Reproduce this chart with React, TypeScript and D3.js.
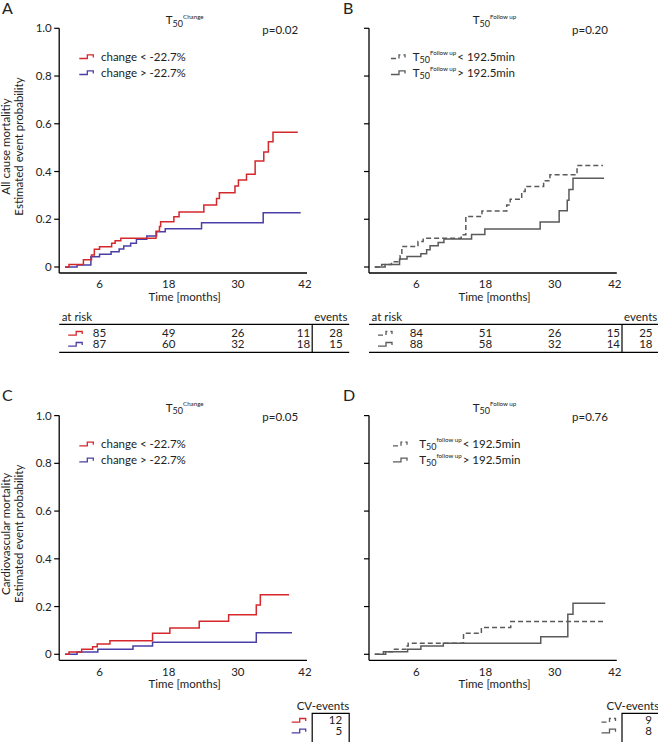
import React, { useEffect, useRef } from "react";
import * as d3 from "d3";

type Step = [number, number];

const monthTicks = [6, 18, 30, 42];
const probTicks = [0, 0.2, 0.4, 0.6, 0.8, 1.0];
const probTickLabels = ["0", "0.2", "0.4", "0.6", "0.8", "1.0"];

// all cause mortality, T50 change
const allChangeBelow: Step[] = [
  [0, 0], [0.7, 0.01], [3.2, 0.03], [4.6, 0.05], [5.1, 0.074], [6.0, 0.085],
  [8.1, 0.099], [8.7, 0.11], [9.7, 0.12], [15.8, 0.15], [16.4, 0.17], [16.6, 0.19],
  [18.9, 0.21], [19.8, 0.23], [24.1, 0.26], [26.3, 0.287], [26.8, 0.311],
  [29.5, 0.339], [30.1, 0.364], [31.5, 0.389], [33.0, 0.444], [34.5, 0.482],
  [35.3, 0.525], [36.1, 0.564], [40.4, 0.564],
];
const allChangeAbove: Step[] = [
  [0, 0], [2.1, 0.008], [4.5, 0.043], [6.0, 0.053], [8.0, 0.064], [9.4, 0.075],
  [10.2, 0.088], [11.4, 0.1], [12.4, 0.116], [14.2, 0.13], [15.9, 0.148],
  [17.4, 0.16], [23.7, 0.185], [34.4, 0.227], [40.9, 0.227],
];

// all cause mortality, T50 follow up
const allFollowBelow: Step[] = [
  [0, 0], [1.2, 0.01], [2.9, 0.022], [4.4, 0.047], [4.7, 0.086], [7.5, 0.107],
  [8.4, 0.12], [15.0, 0.135], [15.8, 0.212], [18.6, 0.235], [22.9, 0.26],
  [23.5, 0.284], [25.5, 0.316], [26.1, 0.337], [29.3, 0.361], [30.4, 0.386],
  [35.1, 0.425], [39.6, 0.425],
];
const allFollowAbove: Step[] = [
  [0, 0], [1.8, 0.01], [4.3, 0.033], [5.6, 0.044], [8.0, 0.056], [9.0, 0.072],
  [9.6, 0.089], [11.0, 0.103], [12.0, 0.117], [16.8, 0.136], [19.1, 0.159],
  [28.7, 0.188], [32.0, 0.236], [33.4, 0.28], [33.7, 0.325], [34.4, 0.372],
  [39.8, 0.372],
];

// cardiovascular mortality
const cvChangeBelow: Step[] = [
  [0, 0], [0.7, 0.01], [2.9, 0.021], [4.8, 0.032], [5.6, 0.043], [7.8, 0.057],
  [15.2, 0.088], [18.2, 0.11], [23.3, 0.138], [28.4, 0.166], [33.2, 0.207],
  [33.9, 0.249], [38.9, 0.249],
];
const cvChangeAbove: Step[] = [
  [0, 0], [2.1, 0.01], [5.7, 0.021], [11.8, 0.035], [15.2, 0.05], [33.2, 0.09],
  [39.4, 0.09],
];
const cvFollowBelow: Step[] = [
  [0, 0], [1.5, 0.011], [3.2, 0.021], [5.4, 0.035], [5.8, 0.046], [15.4, 0.088],
  [18.5, 0.112], [23.6, 0.137], [39.6, 0.137],
];
const cvFollowAbove: Step[] = [
  [0, 0], [1.9, 0.011], [5.7, 0.021], [8.0, 0.035], [11.9, 0.046], [28.8, 0.074],
  [33.5, 0.168], [34.4, 0.214], [40.0, 0.214],
];

// numbers at risk / events
const riskChangeBelow = [85, 49, 26, 11];
const riskChangeAbove = [87, 60, 32, 18];
const riskFollowBelow = [84, 51, 26, 15];
const riskFollowAbove = [88, 58, 32, 14];
const eventsChange = [28, 15];
const eventsFollow = [25, 18];
const cvEventsChange = [12, 5];
const cvEventsFollow = [9, 8];

const RED = "#d4282c";
const BLUE = "#4a3fa6";
const GREY = "#5a5a5a";
const INK = "#222";
const FONT = "Lato, 'Open Sans', sans-serif";
const FS = 11.5;

interface Series {
  steps: Step[];
  color: string;
  dashed?: boolean;
  label: string;
}

interface PanelCfg {
  letter: string;
  letterX: number;
  ax: number; // y axis position
  top: number;
  titleSup: string;
  p: string;
  yLabel?: string[];
  tickShift: number;
  legendIconX: number;
  legendTextX: number;
  legendSup?: string;
  series: Series[];
  risk?: number[][];
  events?: number[];
  cvEvents?: number[];
}

type G = d3.Selection<SVGGElement, unknown, null, undefined>;
type T = d3.Selection<SVGTextElement, unknown, null, undefined>;

function addT50(t: T, sup: string, rest?: string) {
  t.append("tspan").text("T");
  t.append("tspan").attr("font-size", 9).attr("dy", 2.5).text("50");
  t.append("tspan").attr("font-size", 6.2).attr("dy", -8).text(sup);
  if (rest) t.append("tspan").attr("font-size", FS).attr("dy", 5.5).attr("dx", 1).text(rest);
}

function stepIcon(g: G, x: number, y: number, s: Series) {
  g.append("path")
    .attr("d", `M${x},${y + 1.8}H${x + 8}V${y - 1.8}H${x + 14}V${y + 0.8}`)
    .attr("fill", "none")
    .attr("stroke", s.color)
    .attr("stroke-width", 1.3)
    .attr("stroke-dasharray", s.dashed ? "5,3" : null);
}

function drawPanel(svg: d3.Selection<SVGSVGElement, unknown, null, undefined>, c: PanelCfg) {
  const g = svg.append("g").attr("transform", `translate(0,${c.top})`) as G;
  const axisEnd = c.ax + 247.8;

  const x = d3.scaleLinear().domain([-1, 42]).range([c.ax, axisEnd]);
  const y = d3.scaleLinear().domain([0, 1]).range([267, 28.3]);
  const xAxisY = 273;
  const tickX = (t: number) => Math.min(x(t) + c.tickShift, axisEnd - 2);

  // panel letter
  g.append("text")
    .attr("x", c.letterX)
    .attr("y", 14)
    .attr("font-size", 16)
    .attr("fill", INK)
    .text(c.letter);

  // title
  const title = g.append("text")
    .attr("x", c.ax + 125.5)
    .attr("y", 24.3)
    .attr("text-anchor", "middle")
    .attr("font-size", FS)
    .attr("fill", INK) as T;
  addT50(title, c.titleSup);

  g.append("text")
    .attr("x", c.ax + 221)
    .attr("y", 33.5)
    .attr("text-anchor", "middle")
    .attr("font-size", FS)
    .attr("fill", INK)
    .text(c.p);

  // axes
  g.append("line")
    .attr("x1", c.ax).attr("x2", c.ax)
    .attr("y1", y(1)).attr("y2", xAxisY)
    .attr("stroke", "#000").attr("stroke-width", 1.3);
  g.append("line")
    .attr("x1", c.ax).attr("x2", axisEnd)
    .attr("y1", xAxisY).attr("y2", xAxisY)
    .attr("stroke", "#000").attr("stroke-width", 1.3);

  g.selectAll(".ytick")
    .data(probTicks)
    .enter()
    .append("line")
    .attr("x1", c.ax - 5).attr("x2", c.ax)
    .attr("y1", (d) => y(d)).attr("y2", (d) => y(d))
    .attr("stroke", "#000").attr("stroke-width", 1.2);

  if (c.yLabel) {
    g.selectAll(".ylab")
      .data(probTicks)
      .enter()
      .append("text")
      .attr("x", c.ax - 7.5)
      .attr("y", (d) => y(d) + 4)
      .attr("text-anchor", "end")
      .attr("font-size", FS)
      .attr("fill", INK)
      .text((_, i) => probTickLabels[i]);

    c.yLabel.forEach((line, i) => {
      g.append("text")
        .attr("transform", `translate(${10 + i * 13},146.5) rotate(-90)`)
        .attr("text-anchor", "middle")
        .attr("font-size", FS)
        .attr("fill", INK)
        .text(line);
    });
  }

  g.selectAll(".xlab")
    .data(monthTicks)
    .enter()
    .append("text")
    .attr("x", (d) => tickX(d))
    .attr("y", 288.3)
    .attr("text-anchor", "middle")
    .attr("font-size", FS)
    .attr("fill", INK)
    .text((d) => d);

  g.append("text")
    .attr("x", c.ax + 125.5)
    .attr("y", 300.8)
    .attr("text-anchor", "middle")
    .attr("font-size", FS)
    .attr("fill", INK)
    .text("Time [months]");

  // curves
  const line = d3
    .line<Step>()
    .x((d) => x(d[0]))
    .y((d) => y(d[1]))
    .curve(d3.curveStepAfter);

  [...c.series].reverse().forEach((s) => {
    g.append("path")
      .attr("d", line(s.steps))
      .attr("fill", "none")
      .attr("stroke", s.color)
      .attr("stroke-width", 1.5)
      .attr("stroke-dasharray", s.dashed ? "5,3" : null);
  });

  // legend
  c.series.forEach((s, i) => {
    const ly = 56.7 + i * 16;
    stepIcon(g, c.legendIconX, ly, s);
    const t = g.append("text")
      .attr("x", c.legendTextX)
      .attr("y", ly + 4)
      .attr("font-size", FS)
      .attr("fill", INK) as T;
    if (c.legendSup) addT50(t, c.legendSup, s.label);
    else t.text(s.label);
  });

  const vx = c.ax + 253;
  const tableEnd = c.ax + 290;

  // numbers at risk
  if (c.risk && c.events) {
    g.append("text")
      .attr("x", c.ax + 2.5).attr("y", 320.7)
      .attr("font-size", FS).attr("fill", INK)
      .text("at risk");
    g.append("text")
      .attr("x", vx + 2).attr("y", 320.7)
      .attr("font-size", FS).attr("fill", INK)
      .text("events");
    [324.3, 352.3].forEach((ly) => {
      g.append("line")
        .attr("x1", c.ax).attr("x2", tableEnd)
        .attr("y1", ly).attr("y2", ly)
        .attr("stroke", "#000").attr("stroke-width", 1.2);
    });
    g.append("line")
      .attr("x1", vx).attr("x2", vx)
      .attr("y1", 324.3).attr("y2", 352.3)
      .attr("stroke", "#000").attr("stroke-width", 1.2);

    c.risk.forEach((row, r) => {
      const ry = 333.3 + r * 11;
      stepIcon(g, c.ax + 9, ry, c.series[r]);
      row.forEach((n, k) => {
        const last = k === row.length - 1;
        g.append("text")
          .attr("x", last ? vx - 2 : tickX(monthTicks[k]))
          .attr("y", ry + 4)
          .attr("text-anchor", last ? "end" : "middle")
          .attr("font-size", FS).attr("fill", INK)
          .text(n);
      });
      g.append("text")
        .attr("x", vx + 30.5).attr("y", ry + 4)
        .attr("text-anchor", "end")
        .attr("font-size", FS).attr("fill", INK)
        .text(c.events![r]);
    });
  }

  // CV events box
  if (c.cvEvents) {
    g.append("text")
      .attr("x", c.ax + 237.5).attr("y", 322.7)
      .attr("font-size", FS).attr("fill", INK)
      .text("CV-events");
    g.append("path")
      .attr("d", `M${vx},360V326H${tableEnd}V360`)
      .attr("fill", "none")
      .attr("stroke", "#000").attr("stroke-width", 1.2);
    c.cvEvents.forEach((n, r) => {
      const ry = 333 + r * 10.7;
      stepIcon(g, c.ax + 232.5, ry, c.series[r]);
      g.append("text")
        .attr("x", c.ax + 283).attr("y", ry + 4)
        .attr("text-anchor", "end")
        .attr("font-size", FS).attr("fill", INK)
        .text(n);
    });
  }
}

export default function App() {
  const svgRef = useRef<SVGSVGElement>(null);

  useEffect(() => {
    const svg = d3.select(svgRef.current!);
    svg.selectAll("*").remove();
    svg.attr("font-family", FONT);

    const changeSeries = (a: Step[], b: Step[]): Series[] => [
      { steps: a, color: RED, label: "change < -22.7%" },
      { steps: b, color: BLUE, label: "change > -22.7%" },
    ];
    const followSeries = (a: Step[], b: Step[]): Series[] => [
      { steps: a, color: GREY, dashed: true, label: "< 192.5min" },
      { steps: b, color: GREY, label: "> 192.5min" },
    ];

    drawPanel(svg, {
      letter: "A", letterX: 2, ax: 59.2, top: 0, titleSup: "Change", p: "p=0.02",
      yLabel: ["All cause mortalitiy", "Estimated event probability"],
      tickShift: 0, legendIconX: 79.3, legendTextX: 101,
      series: changeSeries(allChangeBelow, allChangeAbove),
      risk: [riskChangeBelow, riskChangeAbove], events: eventsChange,
    });
    drawPanel(svg, {
      letter: "B", letterX: 343, ax: 369, top: 0, titleSup: "Follow up", p: "p=0.20",
      tickShift: 7, legendIconX: 391, legendTextX: 412.7, legendSup: "Follow up",
      series: followSeries(allFollowBelow, allFollowAbove),
      risk: [riskFollowBelow, riskFollowAbove], events: eventsFollow,
    });
    drawPanel(svg, {
      letter: "C", letterX: 2, ax: 59.2, top: 387.3, titleSup: "Change", p: "p=0.05",
      yLabel: ["Cardiovascular mortality", "Estimated event probability"],
      tickShift: 0, legendIconX: 79.3, legendTextX: 101,
      series: changeSeries(cvChangeBelow, cvChangeAbove),
      cvEvents: cvEventsChange,
    });
    drawPanel(svg, {
      letter: "D", letterX: 343, ax: 369, top: 387.3, titleSup: "Follow up", p: "p=0.76",
      tickShift: 7, legendIconX: 393, legendTextX: 419.3, legendSup: "follow up",
      series: followSeries(cvFollowBelow, cvFollowAbove),
      cvEvents: cvEventsFollow,
    });
  }, []);

  return (
    <svg
      ref={svgRef}
      width={658}
      height={742}
      style={{ position: "absolute", left: 0, top: 0, background: "#fff" }}
    />
  );
}
